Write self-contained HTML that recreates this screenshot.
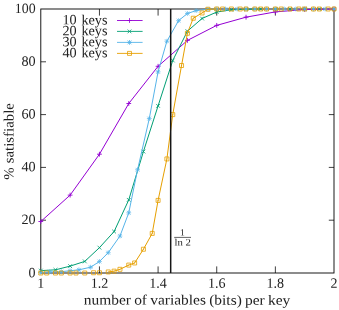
<!DOCTYPE html>
<html><head><meta charset="utf-8"><title>chart</title>
<style>
html,body{margin:0;padding:0;background:#fff;}
svg{will-change:transform;position:absolute;left:0;top:0;}
.t{font-family:"Liberation Serif",serif;font-size:14.2px;fill:#222;}
.s{font-family:"Liberation Serif",serif;font-size:9.6px;fill:#222;}
</style></head><body>
<svg width="339" height="310" viewBox="0 0 339 310" style="display:block">
<rect width="339" height="310" fill="#fff"/><g>
<path d="M40.8,220.20h5.2M334.0,220.20h-5.2M99.44,273.0v-6.6M99.44,9.0v6.6M40.8,167.40h5.2M334.0,167.40h-5.2M158.08,273.0v-6.6M158.08,9.0v6.6M40.8,114.60h5.2M334.0,114.60h-5.2M216.72,273.0v-6.6M216.72,9.0v6.6M40.8,61.80h5.2M334.0,61.80h-5.2M275.36,273.0v-6.6M275.36,9.0v6.6" stroke="#000" stroke-width="0.75" fill="none"/>
<rect x="40.8" y="9.0" width="293.20" height="264.00" fill="none" stroke="#000" stroke-width="0.9"/>
<path d="M40.80,221.52L70.12,195.12M70.12,195.12L99.44,154.20M99.44,154.20L128.76,103.51M128.76,103.51L158.08,66.29M158.08,66.29L187.40,40.42M187.40,40.42L216.72,25.37M216.72,25.37L246.04,17.18M246.04,17.18L275.36,11.90M275.36,11.90L304.68,9.53M304.68,9.53L334.00,9.00" fill="none" stroke="#9400d3" stroke-width="1.0" stroke-linecap="round"/>
<path d="M38.40,221.52H43.20M40.80,219.12V223.92M67.72,195.12H72.52M70.12,192.72V197.52M97.04,154.20H101.84M99.44,151.80V156.60M126.36,103.51H131.16M128.76,101.11V105.91M155.68,66.29H160.48M158.08,63.89V68.69M185.00,40.42H189.80M187.40,38.02V42.82M214.32,25.37H219.12M216.72,22.97V27.77M243.64,17.18H248.44M246.04,14.78V19.58M272.96,11.90H277.76M275.36,9.50V14.30M302.28,9.53H307.08M304.68,7.13V11.93M331.60,9.00H336.40M334.00,6.60V11.40" fill="none" stroke="#9400d3" stroke-width="0.9"/>
<path d="M40.80,270.62L55.46,269.83M55.46,269.83L70.12,266.14M70.12,266.14L84.78,261.38M84.78,261.38L99.44,247.66M99.44,247.66L114.10,231.55M114.10,231.55L128.76,199.87M128.76,199.87L143.42,151.56M143.42,151.56L158.08,105.89M158.08,105.89L172.74,60.48M172.74,60.48L187.40,31.18M187.40,31.18L202.06,18.50M202.06,18.50L216.72,12.04M216.72,12.04L231.38,9.79M231.38,9.79L246.04,9.26M246.04,9.26L260.70,9.00" fill="none" stroke="#009e73" stroke-width="1.0" stroke-linecap="round"/>
<path d="M38.90,268.72L42.70,272.52M38.90,272.52L42.70,268.72M53.56,267.93L57.36,271.73M53.56,271.73L57.36,267.93M68.22,264.24L72.02,268.04M68.22,268.04L72.02,264.24M82.88,259.48L86.68,263.28M82.88,263.28L86.68,259.48M97.54,245.76L101.34,249.56M97.54,249.56L101.34,245.76M112.20,229.65L116.00,233.45M112.20,233.45L116.00,229.65M126.86,197.97L130.66,201.77M126.86,201.77L130.66,197.97M141.52,149.66L145.32,153.46M141.52,153.46L145.32,149.66M156.18,103.99L159.98,107.79M156.18,107.79L159.98,103.99M170.84,58.58L174.64,62.38M170.84,62.38L174.64,58.58M185.50,29.28L189.30,33.08M185.50,33.08L189.30,29.28M200.16,16.60L203.96,20.40M200.16,20.40L203.96,16.60M214.82,10.14L218.62,13.94M214.82,13.94L218.62,10.14M229.48,7.89L233.28,11.69M229.48,11.69L233.28,7.89M244.14,7.36L247.94,11.16M244.14,11.16L247.94,7.36M258.80,7.10L262.60,10.90M258.80,10.90L262.60,7.10M273.46,7.10L277.26,10.90M273.46,10.90L277.26,7.10M288.12,7.10L291.92,10.90M288.12,10.90L291.92,7.10M302.78,7.10L306.58,10.90M302.78,10.90L306.58,7.10M317.44,7.10L321.24,10.90M317.44,10.90L321.24,7.10M332.10,7.10L335.90,10.90M332.10,10.90L335.90,7.10" fill="none" stroke="#009e73" stroke-width="0.8"/>
<path d="M40.80,272.47L49.60,271.94M49.60,271.94L61.32,271.68M61.32,271.68L70.12,270.76M70.12,270.76L78.92,269.83M78.92,269.83L90.64,267.19M90.64,267.19L99.44,261.52M99.44,261.52L108.24,252.67M108.24,252.67L119.96,236.04M119.96,236.04L128.76,212.81M128.76,212.81L137.56,169.78M137.56,169.78L149.28,118.56M149.28,118.56L158.08,71.83M158.08,71.83L166.88,41.21M166.88,41.21L178.60,20.62M178.60,20.62L187.40,13.49M187.40,13.49L196.20,10.58M196.20,10.58L207.92,9.26M207.92,9.26L216.72,9.00" fill="none" stroke="#56b4e9" stroke-width="1.0" stroke-linecap="round"/>
<path d="M38.40,272.47H43.20M40.80,270.07V274.87M38.90,270.57L42.70,274.37M38.90,274.37L42.70,270.57M47.20,271.94H52.00M49.60,269.54V274.34M47.70,270.04L51.50,273.84M47.70,273.84L51.50,270.04M58.92,271.68H63.72M61.32,269.28V274.08M59.42,269.78L63.22,273.58M59.42,273.58L63.22,269.78M67.72,270.76H72.52M70.12,268.36V273.16M68.22,268.86L72.02,272.66M68.22,272.66L72.02,268.86M76.52,269.83H81.32M78.92,267.43V272.23M77.02,267.93L80.82,271.73M77.02,271.73L80.82,267.93M88.24,267.19H93.04M90.64,264.79V269.59M88.74,265.29L92.54,269.09M88.74,269.09L92.54,265.29M97.04,261.52H101.84M99.44,259.12V263.92M97.54,259.62L101.34,263.42M97.54,263.42L101.34,259.62M105.84,252.67H110.64M108.24,250.27V255.07M106.34,250.77L110.14,254.57M106.34,254.57L110.14,250.77M117.56,236.04H122.36M119.96,233.64V238.44M118.06,234.14L121.86,237.94M118.06,237.94L121.86,234.14M126.36,212.81H131.16M128.76,210.41V215.21M126.86,210.91L130.66,214.71M126.86,214.71L130.66,210.91M135.16,169.78H139.96M137.56,167.38V172.18M135.66,167.88L139.46,171.68M135.66,171.68L139.46,167.88M146.88,118.56H151.68M149.28,116.16V120.96M147.38,116.66L151.18,120.46M147.38,120.46L151.18,116.66M155.68,71.83H160.48M158.08,69.43V74.23M156.18,69.93L159.98,73.73M156.18,73.73L159.98,69.93M164.48,41.21H169.28M166.88,38.81V43.61M164.98,39.31L168.78,43.11M164.98,43.11L168.78,39.31M176.20,20.62H181.00M178.60,18.22V23.02M176.70,18.72L180.50,22.52M176.70,22.52L180.50,18.72M185.00,13.49H189.80M187.40,11.09V15.89M185.50,11.59L189.30,15.39M185.50,15.39L189.30,11.59M193.80,10.58H198.60M196.20,8.18V12.98M194.30,8.68L198.10,12.48M194.30,12.48L198.10,8.68M205.52,9.26H210.32M207.92,6.86V11.66M206.02,7.36L209.82,11.16M206.02,11.16L209.82,7.36M214.32,9.00H219.12M216.72,6.60V11.40M214.82,7.10L218.62,10.90M214.82,10.90L218.62,7.10M223.12,9.00H227.92M225.52,6.60V11.40M223.62,7.10L227.42,10.90M223.62,10.90L227.42,7.10M234.84,9.00H239.64M237.24,6.60V11.40M235.34,7.10L239.14,10.90M235.34,10.90L239.14,7.10M243.64,9.00H248.44M246.04,6.60V11.40M244.14,7.10L247.94,10.90M244.14,10.90L247.94,7.10M252.44,9.00H257.24M254.84,6.60V11.40M252.94,7.10L256.74,10.90M252.94,10.90L256.74,7.10M264.16,9.00H268.96M266.56,6.60V11.40M264.66,7.10L268.46,10.90M264.66,10.90L268.46,7.10M272.96,9.00H277.76M275.36,6.60V11.40M273.46,7.10L277.26,10.90M273.46,10.90L277.26,7.10M281.76,9.00H286.56M284.16,6.60V11.40M282.26,7.10L286.06,10.90M282.26,10.90L286.06,7.10M293.48,9.00H298.28M295.88,6.60V11.40M293.98,7.10L297.78,10.90M293.98,10.90L297.78,7.10M302.28,9.00H307.08M304.68,6.60V11.40M302.78,7.10L306.58,10.90M302.78,10.90L306.58,7.10M311.08,9.00H315.88M313.48,6.60V11.40M311.58,7.10L315.38,10.90M311.58,10.90L315.38,7.10M322.80,9.00H327.60M325.20,6.60V11.40M323.30,7.10L327.10,10.90M323.30,10.90L327.10,7.10M331.60,9.00H336.40M334.00,6.60V11.40M332.10,7.10L335.90,10.90M332.10,10.90L335.90,7.10" fill="none" stroke="#56b4e9" stroke-width="0.7"/>
<path d="M108.24,271.94L114.10,271.15M114.10,271.15L119.96,269.30M119.96,269.30L128.76,265.08M128.76,265.08L134.62,262.97M134.62,262.97L143.42,249.24M143.42,249.24L152.22,233.40M152.22,233.40L158.08,200.40M158.08,200.40L166.88,158.95M166.88,158.95L172.74,114.60M172.74,114.60L181.54,65.50M181.54,65.50L187.40,33.29M187.40,33.29L193.26,18.24M193.26,18.24L202.06,12.96M202.06,12.96L207.92,9.26M207.92,9.26L216.72,9.00" fill="none" stroke="#e69f00" stroke-width="1.0" stroke-linecap="round"/>
<path d="M38.80,271.00h4.0v4.0h-4.0zM44.66,271.00h4.0v4.0h-4.0zM53.46,271.00h4.0v4.0h-4.0zM59.32,271.00h4.0v4.0h-4.0zM68.12,271.00h4.0v4.0h-4.0zM73.98,271.00h4.0v4.0h-4.0zM82.78,271.00h4.0v4.0h-4.0zM91.58,270.74h4.0v4.0h-4.0zM97.44,270.74h4.0v4.0h-4.0zM106.24,269.94h4.0v4.0h-4.0zM112.10,269.15h4.0v4.0h-4.0zM117.96,267.30h4.0v4.0h-4.0zM126.76,263.08h4.0v4.0h-4.0zM132.62,260.97h4.0v4.0h-4.0zM141.42,247.24h4.0v4.0h-4.0zM150.22,231.40h4.0v4.0h-4.0zM156.08,198.40h4.0v4.0h-4.0zM164.88,156.95h4.0v4.0h-4.0zM170.74,112.60h4.0v4.0h-4.0zM179.54,63.50h4.0v4.0h-4.0zM185.40,31.29h4.0v4.0h-4.0zM191.26,16.24h4.0v4.0h-4.0zM200.06,10.96h4.0v4.0h-4.0zM205.92,7.26h4.0v4.0h-4.0zM214.72,7.00h4.0v4.0h-4.0zM220.58,7.00h4.0v4.0h-4.0zM229.38,7.00h4.0v4.0h-4.0zM238.18,7.00h4.0v4.0h-4.0zM244.04,7.00h4.0v4.0h-4.0zM252.84,7.00h4.0v4.0h-4.0zM258.70,7.00h4.0v4.0h-4.0zM264.56,7.00h4.0v4.0h-4.0zM273.36,7.00h4.0v4.0h-4.0zM279.22,7.00h4.0v4.0h-4.0zM288.02,7.00h4.0v4.0h-4.0zM296.82,7.00h4.0v4.0h-4.0zM302.68,7.00h4.0v4.0h-4.0zM311.48,7.00h4.0v4.0h-4.0zM317.34,7.00h4.0v4.0h-4.0zM326.14,7.00h4.0v4.0h-4.0zM332.00,7.00h4.0v4.0h-4.0z" fill="none" stroke="#e69f00" stroke-width="0.8"/>
<text transform="translate(107.50,24.40) rotate(0.05)" text-anchor="end" textLength="45" lengthAdjust="spacingAndGlyphs" class="t" style="word-spacing:1.2px">10 keys</text>
<path d="M117,20.5H142.6" stroke="#9400d3" stroke-width="0.9"/>
<path d="M127.10,20.50H131.90M129.50,18.10V22.90" fill="none" stroke="#9400d3" stroke-width="0.8"/>
<text transform="translate(107.50,35.20) rotate(0.05)" text-anchor="end" textLength="45" lengthAdjust="spacingAndGlyphs" class="t" style="word-spacing:1.2px">20 keys</text>
<path d="M117,31.4H142.6" stroke="#009e73" stroke-width="0.9"/>
<path d="M127.60,29.50L131.40,33.30M127.60,33.30L131.40,29.50" fill="none" stroke="#009e73" stroke-width="0.8"/>
<text transform="translate(107.50,46.20) rotate(0.05)" text-anchor="end" textLength="45" lengthAdjust="spacingAndGlyphs" class="t" style="word-spacing:1.2px">30 keys</text>
<path d="M117,42.4H142.6" stroke="#56b4e9" stroke-width="0.9"/>
<path d="M127.10,42.40H131.90M129.50,40.00V44.80M127.60,40.50L131.40,44.30M127.60,44.30L131.40,40.50" fill="none" stroke="#56b4e9" stroke-width="0.8"/>
<text transform="translate(107.50,57.20) rotate(0.05)" text-anchor="end" textLength="45" lengthAdjust="spacingAndGlyphs" class="t" style="word-spacing:1.2px">40 keys</text>
<path d="M117,53.4H142.6" stroke="#e69f00" stroke-width="0.9"/>
<path d="M127.50,51.40h4.0v4.0h-4.0z" fill="none" stroke="#e69f00" stroke-width="0.8"/>
<path d="M170.68,9.0V273.0" stroke="#161616" stroke-width="1.5"/>
<text transform="translate(35.60,277.30) rotate(0.05)" text-anchor="end" textLength="7" lengthAdjust="spacingAndGlyphs" class="t">0</text>
<text transform="translate(35.60,224.10) rotate(0.05)" text-anchor="end" textLength="14.2" lengthAdjust="spacingAndGlyphs" class="t">20</text>
<text transform="translate(35.60,171.15) rotate(0.05)" text-anchor="end" textLength="14.2" lengthAdjust="spacingAndGlyphs" class="t">40</text>
<text transform="translate(35.60,118.60) rotate(0.05)" text-anchor="end" textLength="14.2" lengthAdjust="spacingAndGlyphs" class="t">60</text>
<text transform="translate(35.60,65.80) rotate(0.05)" text-anchor="end" textLength="14.2" lengthAdjust="spacingAndGlyphs" class="t">80</text>
<text transform="translate(35.60,13.10) rotate(0.05)" text-anchor="end" textLength="20.8" lengthAdjust="spacingAndGlyphs" class="t">100</text>
<text transform="translate(40.80,287.80) rotate(0.05)" text-anchor="middle" textLength="7" lengthAdjust="spacingAndGlyphs" class="t">1</text>
<text transform="translate(99.44,287.80) rotate(0.05)" text-anchor="middle" textLength="17.6" lengthAdjust="spacingAndGlyphs" class="t">1.2</text>
<text transform="translate(158.08,287.80) rotate(0.05)" text-anchor="middle" textLength="17.6" lengthAdjust="spacingAndGlyphs" class="t">1.4</text>
<text transform="translate(216.72,287.80) rotate(0.05)" text-anchor="middle" textLength="17.6" lengthAdjust="spacingAndGlyphs" class="t">1.6</text>
<text transform="translate(275.36,287.80) rotate(0.05)" text-anchor="middle" textLength="17.6" lengthAdjust="spacingAndGlyphs" class="t">1.8</text>
<text transform="translate(334.00,287.80) rotate(0.05)" text-anchor="middle" textLength="7" lengthAdjust="spacingAndGlyphs" class="t">2</text>
<text transform="translate(187.00,304.60) rotate(0.05)" text-anchor="middle" textLength="206.5" lengthAdjust="spacingAndGlyphs" class="t" style="word-spacing:-0.6px">number of variables (bits) per key</text>
<text transform="translate(13.50,141.40) rotate(-89.95)" text-anchor="middle" textLength="76.5" lengthAdjust="spacingAndGlyphs" class="t" style="word-spacing:0.3px">% satisfiable</text>
<text transform="translate(182.50,235.60) rotate(0.05)" text-anchor="middle" class="s">1</text>
<path d="M174.2,237.4H191" stroke="#222" stroke-width="0.7"/>
<text transform="translate(182.60,245.50) rotate(0.05)" text-anchor="middle" textLength="16.4" lengthAdjust="spacingAndGlyphs" class="s">ln 2</text>
</g></svg>
</body></html>
